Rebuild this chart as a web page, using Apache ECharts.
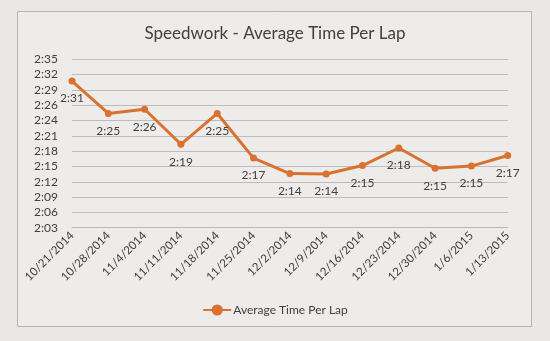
<!DOCTYPE html>
<html>
<head>
<meta charset="utf-8">
<script src="https://cdn.jsdelivr.net/npm/echarts@6/dist/echarts.min.js"></script>
<style>
html,body{margin:0;padding:0;background:#eae8e5;}
#c{width:550px;height:341px;}
</style>
</head>
<body>
<div id="c"></div>
<script>
var categories = ['10/21/2014','10/28/2014','11/4/2014','11/11/2014','11/18/2014','11/25/2014','12/2/2014','12/9/2014','12/16/2014','12/23/2014','12/30/2014','1/6/2015','1/13/2015'];
// average lap time in seconds
var lapSeconds = [151.5,145.4,146.2,139.6,145.4,137.0,134.1,134.0,135.6,138.9,135.1,135.5,137.5];
var yTickLabels = ['2:03','2:06','2:09','2:12','2:15','2:18','2:21','2:24','2:26','2:29','2:32','2:35'];
var yStep = 2.8814;
var yMin = 43 * yStep;
var yMax = 54 * yStep;

function fmt(s){
  var m = Math.floor(s/60), sec = Math.floor(s - m*60);
  return m + ':' + (sec < 10 ? '0' : '') + sec;
}
var font = 'Lato, "Open Sans", sans-serif';
var chart = echarts.init(document.getElementById('c'));
chart.setOption({
  backgroundColor: '#eae8e5',
  animation: false,
  graphic: [{
    type: 'rect', z: -10,
    shape: {x: 17.5, y: 11.5, width: 514, height: 315},
    style: {fill: '#eeecea', stroke: '#b4b4b4', lineWidth: 1}
  }],
  title: {
    text: 'Speedwork - Average Time Per Lap',
    left: 'center', top: 20,
    textStyle: {fontFamily: font, fontSize: 17, fontWeight: 'normal', color: '#404040'}
  },
  legend: {
    top: 299, left: 'center',
    itemWidth: 28, itemHeight: 14, itemGap: 4,
    textStyle: {fontFamily: font, fontSize: 12, color: '#404040', padding: [0,0,0,-3]},
    data: ['Average Time Per Lap']
  },
  grid: {left: 72, right: 42.3, top: 59.3, height: 168.4, containLabel: false},
  xAxis: {
    type: 'category', data: categories, boundaryGap: false,
    axisLine: {show: true, lineStyle: {color: '#b8b8b8', width: 1}},
    axisTick: {show: false},
    axisLabel: {rotate: 45, fontFamily: font, fontSize: 11.5, color: '#404040', margin: 6, interval: 0}
  },
  yAxis: {
    type: 'value', min: yMin, max: yMax, interval: yStep,
    axisLine: {show: false}, axisTick: {show: false},
    splitLine: {lineStyle: {color: '#bcbcbc', width: 1}},
    axisLabel: {
      fontFamily: font, fontSize: 12, color: '#404040', margin: 14,
      formatter: function(v){ return yTickLabels[Math.round((v - yMin)/yStep)] || ''; }
    }
  },
  series: [{
    name: 'Average Time Per Lap', type: 'line', data: lapSeconds,
    symbol: 'circle', symbolSize: 7,
    lineStyle: {color: '#D9722E', width: 3},
    itemStyle: {color: '#D9722E'},
    label: {
      show: true, position: 'bottom', distance: 8,
      fontFamily: font, fontSize: 12, color: '#404040',
      formatter: function(p){ return fmt(p.value); }
    }
  }]
});
</script>
</body>
</html>
